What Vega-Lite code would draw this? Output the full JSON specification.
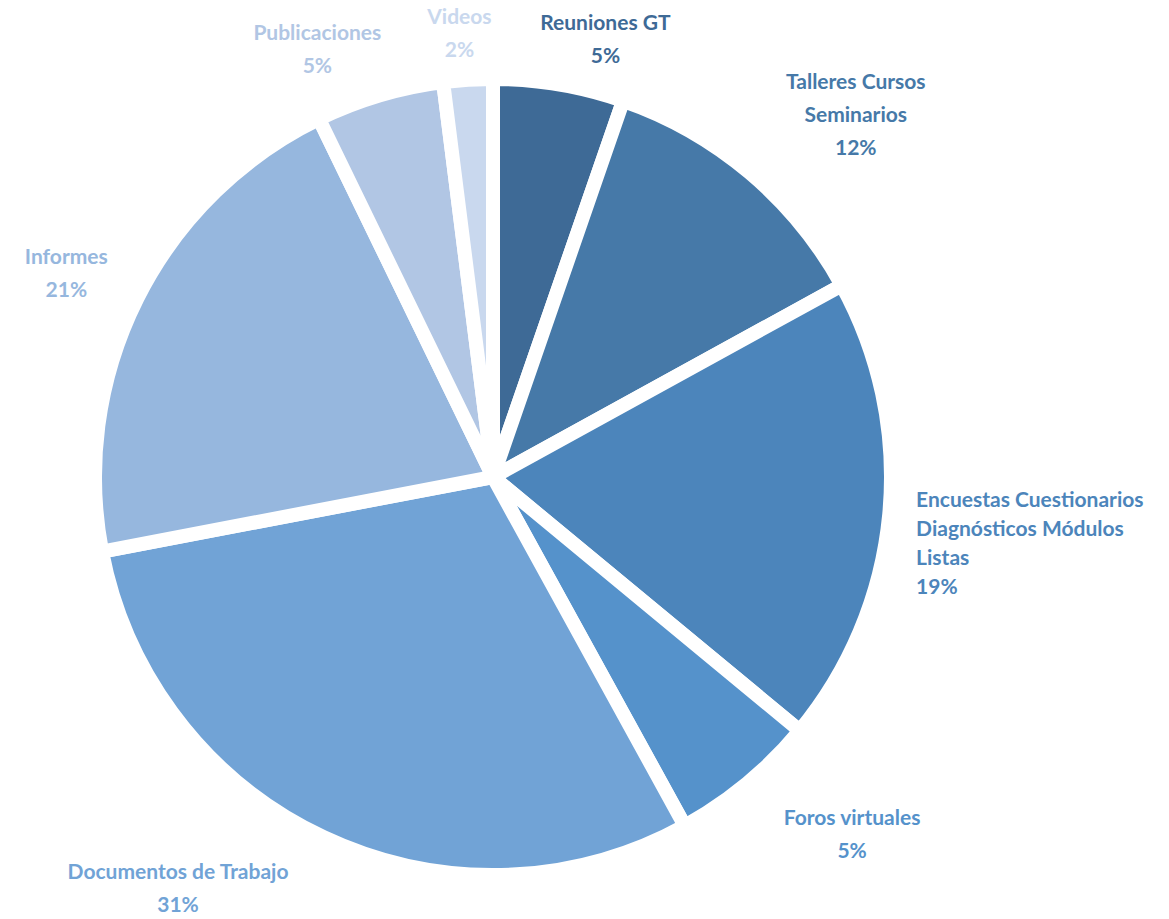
{
  "$schema": "https://vega.github.io/schema/vega-lite/v6.json",
  "width": 986,
  "height": 884,
  "autosize": "none",
  "padding": {"left": 0, "top": 35, "right": 183, "bottom": 0},
  "background": "white",
  "config": {"view": {"stroke": null}, "text": {"font": "Lato", "fontSize": 21, "fontWeight": "bold", "lineBreak": "\n", "lineHeight": 33, "align": "center", "baseline": "middle"}},
  "data": {
    "values": [
      {"ord": 1, "category": "Reuniones GT", "value": 5.3, "label": "Reuniones GT\n5%"},
      {"ord": 2, "category": "Talleres Cursos Seminarios", "value": 11.7, "label": "Talleres Cursos\nSeminarios\n12%"},
      {"ord": 3, "category": "Encuestas Cuestionarios Diagnósticos Módulos Listas", "value": 19.0, "label": "Encuestas Cuestionarios\nDiagnósticos Módulos\nListas\n19%"},
      {"ord": 4, "category": "Foros virtuales", "value": 6.0, "label": "Foros virtuales\n5%"},
      {"ord": 5, "category": "Documentos de Trabajo", "value": 30.0, "label": "Documentos de Trabajo\n31%"},
      {"ord": 6, "category": "Informes", "value": 20.8, "label": "Informes\n21%"},
      {"ord": 7, "category": "Publicaciones", "value": 5.2, "label": "Publicaciones\n5%"},
      {"ord": 8, "category": "Videos", "value": 2.0, "label": "Videos\n2%"}
    ]
  },
  "encoding": {
    "theta": {"field": "value", "type": "quantitative", "stack": true},
    "order": {"field": "ord", "type": "quantitative"},
    "color": {
      "field": "category",
      "type": "nominal",
      "legend": null,
      "scale": {
        "domain": ["Reuniones GT", "Talleres Cursos Seminarios", "Encuestas Cuestionarios Diagnósticos Módulos Listas", "Foros virtuales", "Documentos de Trabajo", "Informes", "Publicaciones", "Videos"],
        "range": ["#3e6a96", "#4679a8", "#4c85bb", "#5592cb", "#71a3d6", "#96b7de", "#b1c6e4", "#c9d8ee"]
      }
    }
  },
  "layer": [
    {
      "mark": {"type": "arc", "outerRadius": 398, "stroke": "white", "strokeWidth": 14}
    },
    {
      "mark": {"type": "text", "radius": 455, "dx": 37, "dy": -4},
      "encoding": {"text": {"condition": {"test": "datum.category === 'Reuniones GT'", "field": "label"}, "value": ""}}
    },
    {
      "mark": {"type": "text", "radius": 455, "dx": -5, "dy": -5},
      "encoding": {"text": {"condition": {"test": "datum.category === 'Videos'", "field": "label"}, "value": ""}}
    },
    {
      "mark": {"type": "text", "radius": 455, "dx": -46, "dy": -7},
      "encoding": {"text": {"condition": {"test": "datum.category === 'Publicaciones'", "field": "label"}, "value": ""}}
    },
    {
      "mark": {"type": "text", "radius": 455, "dx": -20, "dy": -15},
      "encoding": {"text": {"condition": {"test": "datum.category === 'Informes'", "field": "label"}, "value": ""}}
    },
    {
      "mark": {"type": "text", "radius": 510, "dx": 34, "dy": -4},
      "encoding": {"text": {"condition": {"test": "datum.category === 'Talleres Cursos Seminarios'", "field": "label"}, "value": ""}}
    },
    {
      "mark": {"type": "text", "radius": 510, "dx": 34, "dy": -51},
      "encoding": {"text": {"condition": {"test": "datum.category === 'Foros virtuales'", "field": "label"}, "value": ""}}
    },
    {
      "mark": {"type": "text", "radius": 465, "dx": -117, "dy": -25},
      "encoding": {"text": {"condition": {"test": "datum.category === 'Documentos de Trabajo'", "field": "label"}, "value": ""}}
    },
    {
      "mark": {"type": "text", "radius": 428, "align": "left", "dx": -3, "dy": -16, "lineHeight": 29},
      "encoding": {"text": {"condition": {"test": "datum.category === 'Encuestas Cuestionarios Diagnósticos Módulos Listas'", "field": "label"}, "value": ""}}
    }
  ]
}
